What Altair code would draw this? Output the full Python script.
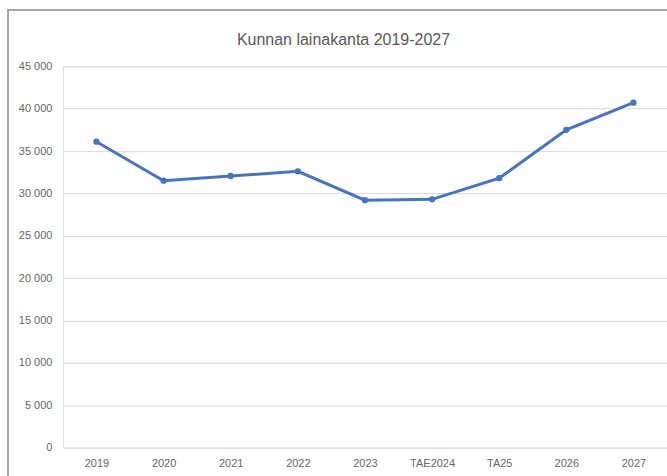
import altair as alt
import pandas as pd

categories = ["2019", "2020", "2021", "2022", "2023", "TAE2024", "TA25", "2026", "2027"]
values = [36100, 31500, 32050, 32600, 29200, 29300, 31800, 37500, 40700]
title_text = "Kunnan lainakanta 2019-2027"

df = pd.DataFrame({"vuosi": categories, "laina": values})

FONT = "Liberation Sans"
GRAY = "#595959"
LGRAY = "#666666"
BLUE = "#4674C0"

x = alt.X("vuosi:N", sort=categories, title=None,
          scale=alt.Scale(type="point", padding=0.5),
          axis=alt.Axis(labelAngle=0, domain=False, ticks=False, grid=False,
                        labelFont=FONT, labelFontSize=11, labelColor=LGRAY, labelPadding=10))
y = alt.Y("laina:Q", title=None,
          scale=alt.Scale(domain=[0, 45000], nice=False),
          axis=alt.Axis(values=list(range(0, 45001, 5000)), domain=False, ticks=False,
                        gridColor="#d9d9d9", gridWidth=1,
                        labelFont=FONT, labelFontSize=11, labelColor=LGRAY, labelPadding=11,
                        labelExpr="replace(format(datum.value, ','), ',', ' ')"))

line = alt.Chart(df).mark_line(color=BLUE, strokeWidth=3).encode(x=x, y=y)
pts = alt.Chart(df).mark_point(filled=True, color=BLUE, size=40, opacity=1).encode(x=x, y=y)

frame = alt.Chart(df).mark_rect(fill="transparent", stroke="#a6a6a6", strokeWidth=1.5).encode(
    x=alt.value(-55), x2=alt.value(700), y=alt.value(-56), y2=alt.value(520))

title = alt.Chart(pd.DataFrame({"t": [title_text]})).mark_text(
    font=FONT, fontSize=16, color=GRAY, align="center", baseline="middle"
).encode(text="t:N", x=alt.value(281), y=alt.value(-26))

chart = alt.layer(frame, line, pts, title).properties(
    width=605, height=382,
    padding={"left": 63, "top": 66, "right": 0, "bottom": 28},
    autosize=alt.AutoSizeParams(type="none"),
).configure_view(stroke=None).configure(background="white")

chart.save("out.html", embed_options={"renderer": "svg", "actions": False})
